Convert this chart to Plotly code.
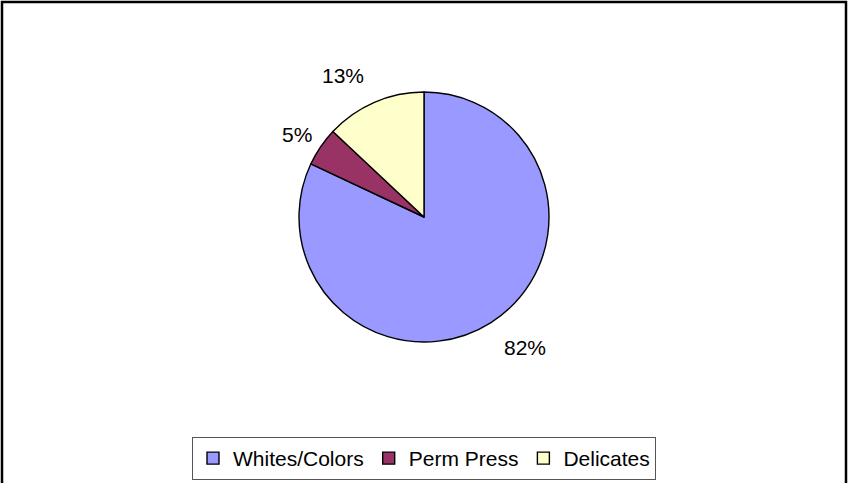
import math
import plotly.graph_objects as go

# Laundry load mix
categories = ["Whites/Colors", "Perm Press", "Delicates"]
shares = [82, 5, 13]
slice_colors = ["#9999FF", "#993366", "#FFFFCC"]

W, H = 848, 483
FONT = "Arial, 'Liberation Sans', sans-serif"

# pie geometry in pixels
cx, cy, r = 424, 217, 125
dom_x = [(cx - r) / W, (cx + r) / W]
dom_y = [1 - (cy + r) / H, 1 - (cy - r) / H]

fig = go.Figure(
    go.Pie(
        labels=categories,
        values=shares,
        sort=False,
        direction="clockwise",
        rotation=0,
        marker=dict(colors=slice_colors, line=dict(color="#000000", width=1.4)),
        textinfo="none",
        hoverinfo="label+percent",
        domain=dict(x=dom_x, y=dom_y),
    )
)

# percentage labels placed just outside each slice
total = sum(shares)
label_r = r + 20
half_cap = 8  # half the glyph height of the label text
start = 0.0
annotations = []
for v in shares:
    mid = (start + v / 2) / total * 2 * math.pi
    start += v
    dx, dy = math.sin(mid), -math.cos(mid)  # dy in screen (down) direction
    if abs(dy) > 0.7:
        # labels above/below the pie: hang off the nearest corner
        px, py = cx + dx * label_r, cy + dy * label_r
        py += half_cap if dy > 0 else -half_cap
        xanchor = "left" if dx > 0.2 else ("right" if dx < -0.2 else "center")
    else:
        # labels beside the pie: centred a little further out
        rr = label_r + 9
        px, py = cx + dx * rr, cy + dy * rr + 4
        xanchor = "center"
    annotations.append(
        dict(
            x=px / W, y=1 - py / H, xref="paper", yref="paper",
            text=f"{round(v / total * 100)}%", showarrow=False,
            xanchor=xanchor, yanchor="middle",
            font=dict(family=FONT, size=21, color="#000000"),
        )
    )

fig.update_layout(
    width=W, height=H,
    margin=dict(l=0, r=0, t=0, b=0),
    paper_bgcolor="#FFFFFF",
    plot_bgcolor="#FFFFFF",
    font=dict(family=FONT, size=21, color="#000000"),
    annotations=annotations,
    showlegend=True,
    legend=dict(
        orientation="h",
        x=0.5, xanchor="center",
        y=1 - 437 / H, yanchor="top",
        bgcolor="#FFFFFF",
        bordercolor="#555555", borderwidth=1,
        font=dict(family=FONT, size=21, color="#000000"),
        itemclick=False,
    ),
    shapes=[
        dict(
            type="rect", xref="paper", yref="paper",
            x0=2 / W, x1=(W - 2) / W, y0=-0.05, y1=1 - 2 / H,
            line=dict(color="#000000", width=2.5),
            fillcolor="rgba(0,0,0,0)",
            layer="above",
        )
    ],
)

fig.write_html("out.html")
